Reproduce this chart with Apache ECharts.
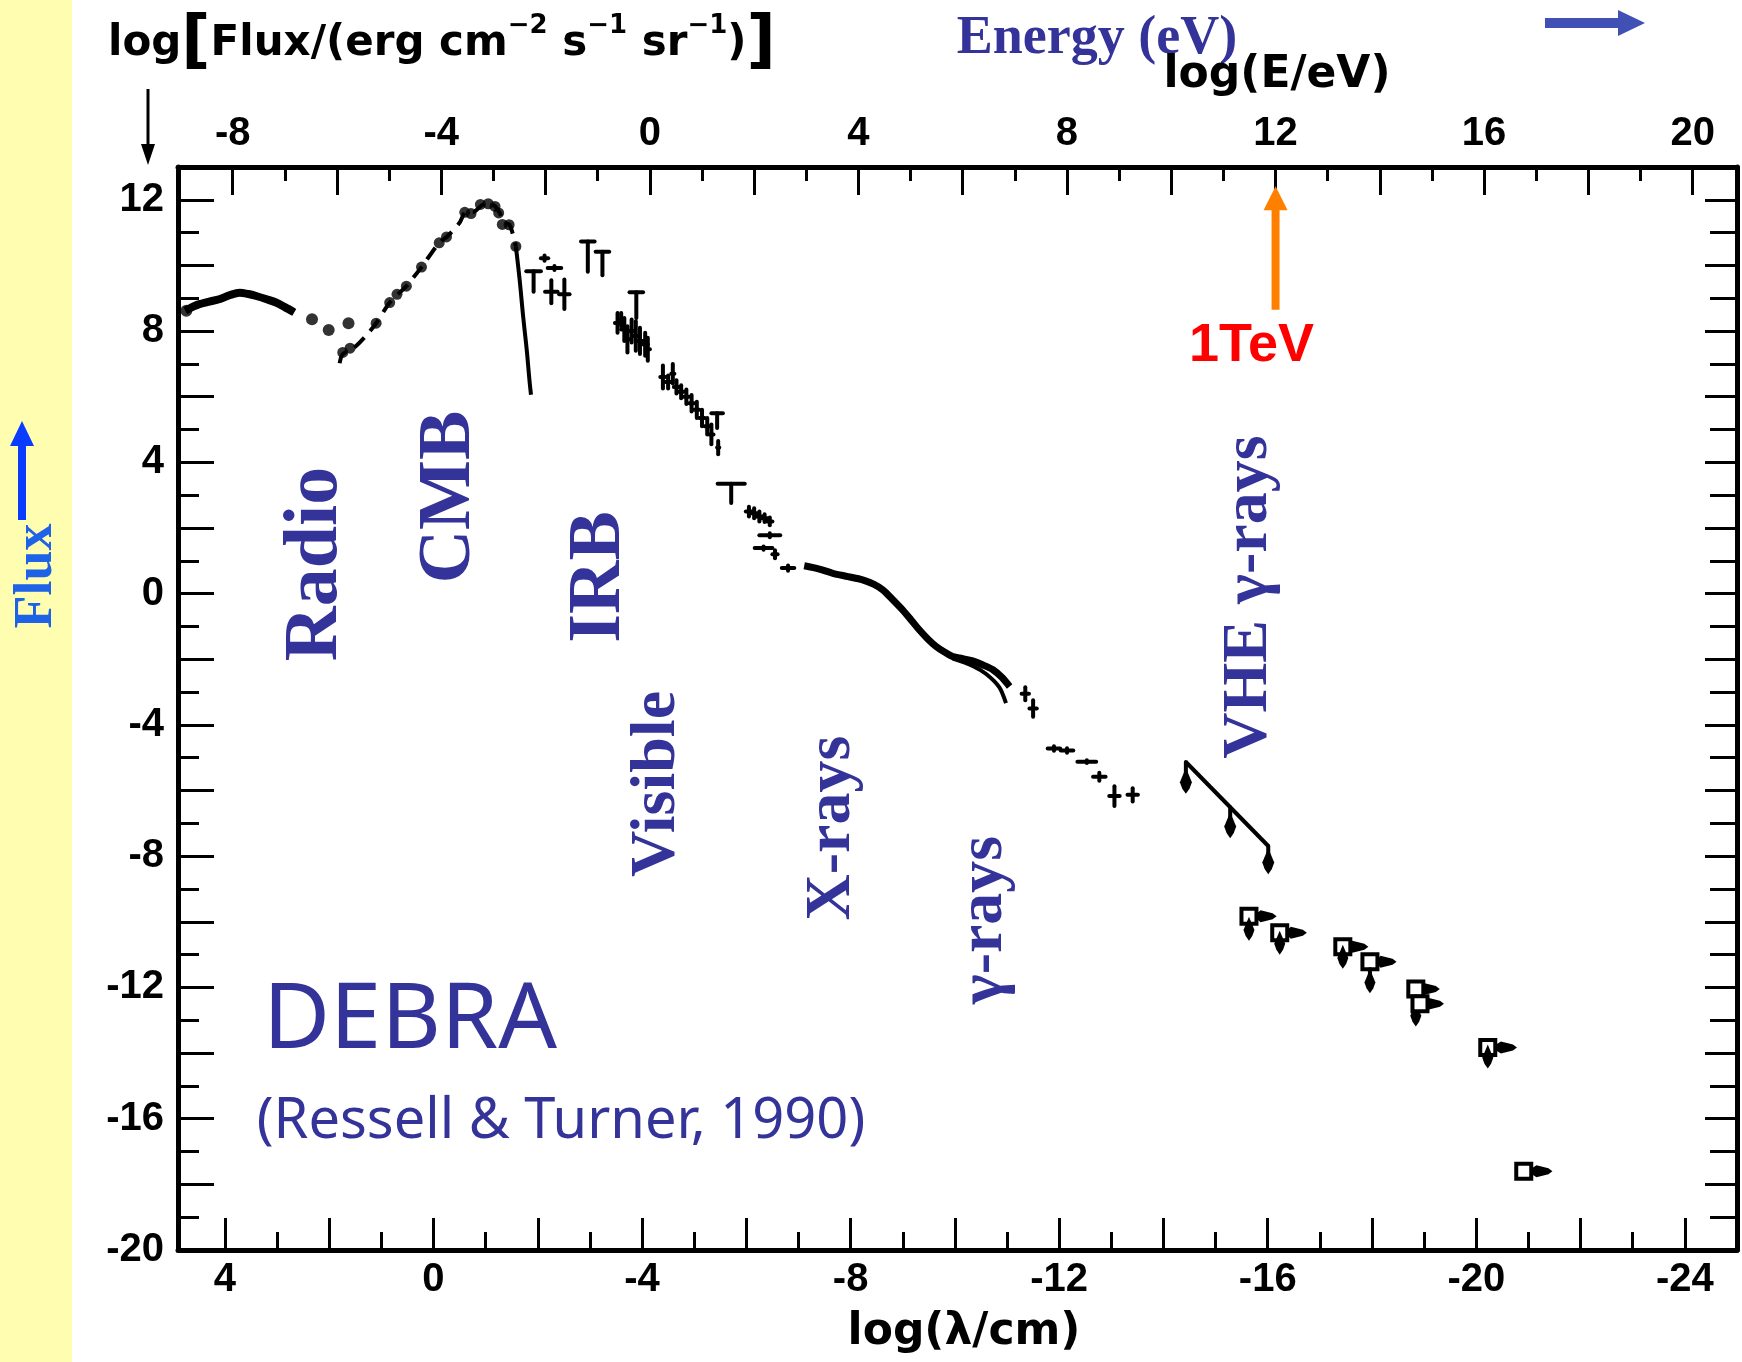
<!DOCTYPE html>
<html>
<head>
<meta charset="utf-8">
<title>DEBRA – diffuse extragalactic background radiation</title>
<script src="https://cdn.jsdelivr.net/npm/echarts@6/dist/echarts.min.js"></script>
<style>
  html, body { margin: 0; padding: 0; background: #fff; }
  #chart { width: 1742px; height: 1362px; }
</style>
</head>
<body>
<div id="chart"></div>
<script>
// ---- axis tick labels ----
const lambdaLabels = [4, 0, -4, -8, -12, -16, -20, -24];      // log(λ/cm)
const energyLabels = [-8, -4, 0, 4, 8, 12, 16, 20];          // log(E/eV)
const fluxLabels   = [12, 8, 4, 0, -4, -8, -12, -16, -20];   // log flux

// ---- spectrum: [log λ, log flux] ----
const radioCurve = [
  [4.76, 8.62], [4.6, 8.75], [4.49, 8.82], [4.3, 8.9], [4.11, 8.97],
  [3.9, 9.1], [3.72, 9.17], [3.55, 9.13], [3.4, 9.07], [3.2, 8.97], [3.02, 8.87],
  [2.85, 8.73], [2.67, 8.57]
];
const radioDots = [[4.74, 8.62], [2.33, 8.36], [2.01, 8.03], [1.63, 8.24]];

const cmbDashed = [
  [1.80, 7.02], [1.74, 7.3], [1.52, 7.5], [1.30, 7.85], [1.10, 8.24], [0.84, 8.87],
  [0.65, 9.17], [0.52, 9.37], [0.23, 9.95], [-0.11, 10.69], [-0.27, 10.89],
  [-0.50, 11.3], [-0.63, 11.65], [-0.75, 11.62], [-0.98, 11.87], [-1.14, 11.85],
  [-1.27, 11.6], [-1.35, 11.3], [-1.46, 11.24], [-1.58, 10.58]
];
const cmbDots = [
  [1.74, 7.35], [1.60, 7.48], [1.10, 8.24], [0.84, 8.87], [0.70, 9.12], [0.52, 9.37],
  [0.23, 9.95], [-0.11, 10.69], [-0.25, 10.87], [-0.60, 11.62], [-0.72, 11.58],
  [-0.90, 11.86], [-1.05, 11.88], [-1.18, 11.8], [-1.25, 11.6], [-1.32, 11.25],
  [-1.45, 11.24], [-1.58, 10.58]
];
const cmbWien = [[-1.58, 10.58], [-1.65, 9.6], [-1.72, 8.44], [-1.79, 7.4], [-1.84, 6.51], [-1.87, 6.06]];

// upper limits drawn as "T": [log λ, half band width, top, bottom of stem]
const limitBars = [
  [-1.92, 0.14, 9.82, 9.2],
  [-2.96, 0.13, 10.73, 9.81],
  [-3.24, 0.13, 10.42, 9.7],
  [-3.89, 0.13, 9.18, 8.4],
  [-5.44, 0.11, 5.5, 5.05],
  [-5.71, 0.26, 3.35, 2.76]
];

// measurements with error bars: [log λ, log flux, Δx, Δy]
const errorPoints = [
  [-2.13, 10.22, 0.07, 0.08], [-2.32, 9.92, 0.13, 0.06], [-2.26, 9.2, 0.12, 0.35], [-2.51, 9.12, 0.1, 0.45],
  [-3.53, 8.25, 0.05, 0.3], [-3.6, 8.35, 0.05, 0.2], [-3.66, 8.05, 0.06, 0.35], [-3.72, 7.75, 0.05, 0.4],
  [-3.8, 8.0, 0.06, 0.35], [-3.88, 7.85, 0.06, 0.45], [-3.96, 7.7, 0.05, 0.4], [-4.06, 7.6, 0.05, 0.35],
  [-4.11, 7.45, 0.04, 0.35],
  [-4.40, 6.6, 0.05, 0.35], [-4.50, 6.45, 0.05, 0.2], [-4.59, 6.7, 0.03, 0.3], [-4.66, 6.3, 0.05, 0.2],
  [-4.75, 6.15, 0.05, 0.2], [-4.85, 6.0, 0.05, 0.22], [-4.95, 5.8, 0.05, 0.25], [-5.05, 5.6, 0.05, 0.25],
  [-5.15, 5.35, 0.05, 0.25], [-5.25, 5.1, 0.05, 0.25], [-5.33, 4.85, 0.04, 0.3], [-5.46, 4.45, 0.02, 0.2],
  [-6.05, 2.5, 0.06, 0.15], [-6.15, 2.45, 0.06, 0.15], [-6.25, 2.35, 0.06, 0.15], [-6.35, 2.3, 0.06, 0.12],
  [-6.45, 2.2, 0.05, 0.12], [-6.45, 1.78, 0.2, 0.06], [-6.33, 1.39, 0.17, 0.05], [-6.55, 1.2, 0.05, 0.12],
  [-6.8, 0.78, 0.12, 0.08],
  [-11.35, -3.05, 0.07, 0.2], [-11.5, -3.5, 0.07, 0.25], [-11.9, -4.72, 0.12, 0.07], [-12.15, -4.78, 0.12, 0.07],
  [-12.53, -5.12, 0.18, 0.04], [-12.77, -5.58, 0.12, 0.12], [-13.06, -6.17, 0.1, 0.3], [-13.41, -6.13, 0.1, 0.2]
];

const xrayCurve = [
  [-7.11, 0.85], [-7.4, 0.75], [-7.66, 0.62], [-7.95, 0.52], [-8.23, 0.42], [-8.45, 0.28],
  [-8.62, 0.11], [-8.8, -0.17], [-9.0, -0.5], [-9.16, -0.8], [-9.32, -1.11], [-9.48, -1.38],
  [-9.64, -1.61], [-9.8, -1.78], [-9.96, -1.92], [-10.15, -1.98], [-10.34, -2.05],
  [-10.55, -2.18], [-10.73, -2.32], [-10.9, -2.55], [-11.05, -2.83]
];
const xrayLower = [[-9.96, -1.98], [-10.34, -2.2], [-10.6, -2.45], [-10.85, -2.85], [-10.98, -3.34]];

// VHE upper-limit line and its arrows: [log λ, from, to]
const vheLine = [[-14.43, -5.13], [-16.01, -7.69]];
const vheArrows = [[-14.43, -5.13, -6.1], [-15.28, -6.51, -7.45], [-16.01, -7.69, -8.55]];

// ultra-high-energy limits: [log λ, log flux, end of energy band, arrow end]
const boxLimits = [
  [-15.64, -9.83, -16.17, -10.58], [-16.23, -10.33, -16.75, -11.0],
  [-17.44, -10.76, -17.93, -11.43], [-17.96, -11.22, -18.47, -12.18],
  [-18.84, -12.05, -19.3, -13.19], [-18.92, -12.5, -19.38, null],
  [-20.22, -13.83, -20.78, -14.47], [-20.91, -17.6, -21.46, null]
];

// 1 TeV marker on the energy axis: [log E, arrow base flux, arrow tip flux]
const teVMarker = [[12, 8.65, 12.41]];

// ---- helpers ----
function steps(from, to, step) { const a = []; for (let v = from; v <= to; v += step) a.push(v); return a; }
const lambdaMajor = steps(-24, 4, 2), lambdaMinor = steps(-23, 3, 2);
const energyMajor = steps(-8, 20, 2), energyMinor = steps(-7, 19, 2);
const fluxMajor = steps(-20, 12, 2), fluxMinor = steps(-19, 11, 2);

const INK = '#000';
const TICK_FONT = '"Liberation Sans", Arial, sans-serif';
const NAME_FONT = '"DejaVu Sans", sans-serif';
const LABEL_BLUE = '#333399';

function axis(base, ticks, len, labels, labelMargin, showLine) {
  return Object.assign({
    type: 'value',
    axisLine: { show: showLine, onZero: false, lineStyle: { color: INK, width: 5 } },
    axisTick: { show: true, inside: true, length: len, customValues: ticks, lineStyle: { color: INK, width: 3 } },
    axisLabel: labels ? {
      show: true, customValues: labels, margin: labelMargin, color: INK,
      fontSize: 40, fontWeight: 'bold', fontFamily: TICK_FONT
    } : { show: false },
    splitLine: { show: false }
  }, base);
}

const xLam = { position: 'bottom', min: -25, max: 4.9, inverse: true };
const xEn = { position: 'top', min: -9.05, max: 20.85 };
const yL = { position: 'left', min: -20, max: 13 };
const yR = { position: 'right', min: -20, max: 13 };

function line(p1, p2, w) {
  return { type: 'line', shape: { x1: p1[0], y1: p1[1], x2: p2[0], y2: p2[1] }, style: { stroke: INK, lineWidth: w, lineCap: 'round' } };
}
// filled drop-shaped arrowhead whose tip sits at (x, y)
function arrowHead(x, y, w, h, color) {
  return { type: 'polygon', shape: { points: [[x, y - h], [x + w / 2, y - h * 0.45], [x + w * 0.3, y - h * 0.2], [x, y], [x - w * 0.3, y - h * 0.2], [x - w / 2, y - h * 0.45]] }, style: { fill: color || INK } };
}

function renderLimitBar(params, api) {
  const x = api.value(0), hw = api.value(1), top = api.value(2), bot = api.value(3);
  return { type: 'group', children: [
    line(api.coord([x - hw, top]), api.coord([x + hw, top]), 4),
    line(api.coord([x, top]), api.coord([x, bot]), 4)
  ] };
}
function renderErrorPoint(params, api) {
  const x = api.value(0), y = api.value(1), dx = api.value(2), dy = api.value(3);
  return { type: 'group', children: [
    line(api.coord([x - dx, y]), api.coord([x + dx, y]), 4),
    line(api.coord([x, y - dy]), api.coord([x, y + dy]), 4)
  ] };
}
function renderVheArrow(params, api) {
  const x = api.value(0);
  const a = api.coord([x, api.value(1)]), b = api.coord([x, api.value(2)]);
  return { type: 'group', children: [line(a, [b[0], b[1] - 12], 4), arrowHead(b[0], b[1], 12, 26)] };
}
function renderBoxLimit(params, api) {
  const p = api.coord([api.value(0), api.value(1)]);
  const e = api.coord([api.value(2), api.value(1)]);
  const s = 15;
  const kids = [
    { type: 'polygon', shape: { points: [[p[0] + s / 2, p[1] - 2.5], [e[0] - 16, p[1] - 6], [e[0] - 4, p[1] - 3], [e[0], p[1]], [e[0] - 4, p[1] + 3], [e[0] - 16, p[1] + 6], [p[0] + s / 2, p[1] + 2.5]] }, style: { fill: INK } },
    { type: 'rect', shape: { x: p[0] - s / 2, y: p[1] - s / 2, width: s, height: s }, style: { fill: '#fff', stroke: INK, lineWidth: 4 } }
  ];
  const to = api.value(3);
  if (to !== null && !isNaN(to)) {
    const q = api.coord([api.value(0), to]);
    kids.push(line([p[0], p[1] + s / 2], [q[0], q[1] - 12], 4));
    kids.push(arrowHead(q[0], q[1], 11, 24));
  }
  return { type: 'group', children: kids };
}
function renderTeV(params, api) {
  const base = api.coord([api.value(0), api.value(1)]);
  const tip = api.coord([api.value(0), api.value(2)]);
  const x = base[0], orange = '#FF8000';
  return { type: 'group', children: [
    { type: 'rect', shape: { x: x - 4, y: tip[1] + 22, width: 8, height: base[1] - tip[1] - 22 }, style: { fill: orange } },
    { type: 'polygon', shape: { points: [[x - 12, tip[1] + 24], [x + 12, tip[1] + 24], [x, tip[1]]] }, style: { fill: orange } },
    { type: 'text', x: x - 24, y: base[1] + 36, style: { text: '1TeV', fill: '#FF0000', font: 'bold 54px "Liberation Sans", Arial, sans-serif', align: 'center', verticalAlign: 'middle', textAlign: 'center', textVerticalAlign: 'middle' } }
  ] };
}

function vText(text, x, y, size, weight) {
  return {
    type: 'text', x: x, y: y, rotation: Math.PI / 2, silent: true,
    style: {
      text: text, fill: LABEL_BLUE, font: (weight || 'bold') + ' ' + size + 'px "Liberation Serif", "Times New Roman", serif',
      align: 'center', verticalAlign: 'middle', textAlign: 'center', textVerticalAlign: 'middle'
    }
  };
}
function hText(text, x, y, font, fill) {
  return { type: 'text', x: x, y: y, silent: true,
    style: { text: text, fill: fill, font: font, align: 'center', verticalAlign: 'middle', textAlign: 'center', textVerticalAlign: 'middle' } };
}

const chart = echarts.init(document.getElementById('chart'), null, { renderer: 'canvas' });
chart.setOption({
  animation: false,
  backgroundColor: '#ffffff',
  grid: { left: 178, right: 5, top: 167, bottom: 112, containLabel: false, outerBoundsMode: 'none' },
  xAxis: [
    axis(xLam, lambdaMajor, 32, lambdaLabels, 10, true),
    axis(xLam, lambdaMinor, 18, null, 0, false),
    axis(xEn, energyMajor, 28, energyLabels, 13, true),
    axis(xEn, energyMinor, 14, null, 0, false)
  ],
  yAxis: [
    axis(yL, fluxMajor, 36, fluxLabels, 14, true),
    axis(yL, fluxMinor, 21, null, 0, false),
    axis(yR, fluxMajor, 32, null, 0, true),
    axis(yR, fluxMinor, 27, null, 0, false)
  ],
  series: [
    { name: 'radio', type: 'line', data: radioCurve, smooth: 0.3, showSymbol: false, lineStyle: { color: INK, width: 8 }, z: 3 },
    { name: 'radio dots', type: 'scatter', data: radioDots, symbolSize: 12, itemStyle: { color: INK } },
    { name: 'CMB', type: 'line', data: cmbDashed, smooth: 0.3, showSymbol: false, lineStyle: { color: INK, width: 4, type: [14, 9] } },
    { name: 'CMB dots', type: 'scatter', data: cmbDots, symbolSize: 11, itemStyle: { color: INK } },
    { name: 'CMB Wien', type: 'line', data: cmbWien, smooth: 0.4, showSymbol: false, lineStyle: { color: INK, width: 4 } },
    { name: 'X-ray', type: 'line', data: xrayCurve, smooth: 0.3, showSymbol: false, lineStyle: { color: INK, width: 7 } },
    { name: 'X-ray lower', type: 'line', data: xrayLower, smooth: 0.3, showSymbol: false, lineStyle: { color: INK, width: 4 } },
    { name: 'VHE', type: 'line', data: vheLine, showSymbol: false, lineStyle: { color: INK, width: 4 } },
    { name: 'limits', type: 'custom', data: limitBars, renderItem: renderLimitBar, encode: { x: 0, y: 2 } },
    { name: 'measurements', type: 'custom', data: errorPoints, renderItem: renderErrorPoint, encode: { x: 0, y: 1 } },
    { name: 'VHE arrows', type: 'custom', data: vheArrows, renderItem: renderVheArrow, encode: { x: 0, y: 1 } },
    { name: 'UHE limits', type: 'custom', data: boxLimits, renderItem: renderBoxLimit, encode: { x: 0, y: 1 }, z: 4 },
    { name: '1 TeV', type: 'custom', xAxisIndex: 2, data: teVMarker, renderItem: renderTeV, encode: { x: 0, y: 1 }, clip: false }
  ],
  graphic: [
    { type: 'rect', z: -10, silent: true, shape: { x: 0, y: 0, width: 72, height: 1362 }, style: { fill: '#FFFDB0' } },
    // "Flux" with its arrow in the side band
    { type: 'rect', silent: true, shape: { x: 18, y: 444, width: 8, height: 76 }, style: { fill: '#0A3CFF' } },
    { type: 'polygon', silent: true, shape: { points: [[10, 446], [34, 446], [22, 421]] }, style: { fill: '#0A3CFF' } },
    { type: 'text', x: 37, y: 576, rotation: Math.PI / 2, silent: true,
      style: { text: 'Flux', fill: '#1E62E8', font: 'bold 54px "Liberation Serif", serif', align: 'center', verticalAlign: 'middle', textAlign: 'center', textVerticalAlign: 'middle' } },
    // flux axis title
    { type: 'text', x: 108, y: 44, silent: true,
      style: {
        text: '{t|log}{b|[}{t|Flux/(erg cm}{s|−2}{t| s}{s|−1}{t| sr}{s|−1}{t|)}{b|]}',
        align: 'left', verticalAlign: 'middle', textAlign: 'left', textVerticalAlign: 'middle',
        rich: {
          t: { fontSize: 42, fontWeight: 'bold', fontFamily: NAME_FONT, fill: INK, lineHeight: 62 },
          b: { fontSize: 64, fontWeight: 'bold', fontFamily: NAME_FONT, fill: INK, lineHeight: 62 },
          s: { fontSize: 26, fontWeight: 'bold', fontFamily: NAME_FONT, fill: INK, verticalAlign: 'top', lineHeight: 40 }
        }
      } },
    { type: 'line', silent: true, shape: { x1: 148, y1: 89, x2: 148, y2: 150 }, style: { stroke: INK, lineWidth: 3 } },
    { type: 'polygon', silent: true, shape: { points: [[141, 144], [155, 144], [148, 165]] }, style: { fill: INK } },
    // energy axis titles
    hText('Energy (eV)', 1097, 39, 'bold 54px "Liberation Serif", serif', LABEL_BLUE),
    { type: 'rect', silent: true, shape: { x: 1545, y: 18, width: 76, height: 10 }, style: { fill: '#4150B5' } },
    { type: 'polygon', silent: true, shape: { points: [[1618, 10], [1618, 36], [1645, 23]] }, style: { fill: '#4150B5' } },
    hText('log(E/eV)', 1277, 76, 'bold 44px ' + NAME_FONT, INK),
    hText('log(λ/cm)', 964, 1333, 'bold 44px ' + NAME_FONT, INK),
    // spectral regions
    vText('Radio', 316, 564, 76),
    vText('CMB', 450, 497, 74),
    vText('IRB', 600, 577, 74),
    vText('Visible', 657, 784, 64),
    vText('X-rays', 832, 828, 64),
    vText('γ-rays', 984, 920, 64),
    vText('VHE γ-rays', 1249, 597, 64),
    hText('DEBRA', 410, 1022, '92px "Noto Sans", sans-serif', LABEL_BLUE),
    hText('(Ressell & Turner, 1990)', 561, 1122, '56px "Noto Sans", sans-serif', LABEL_BLUE)
  ]
});
</script>
</body>
</html>
